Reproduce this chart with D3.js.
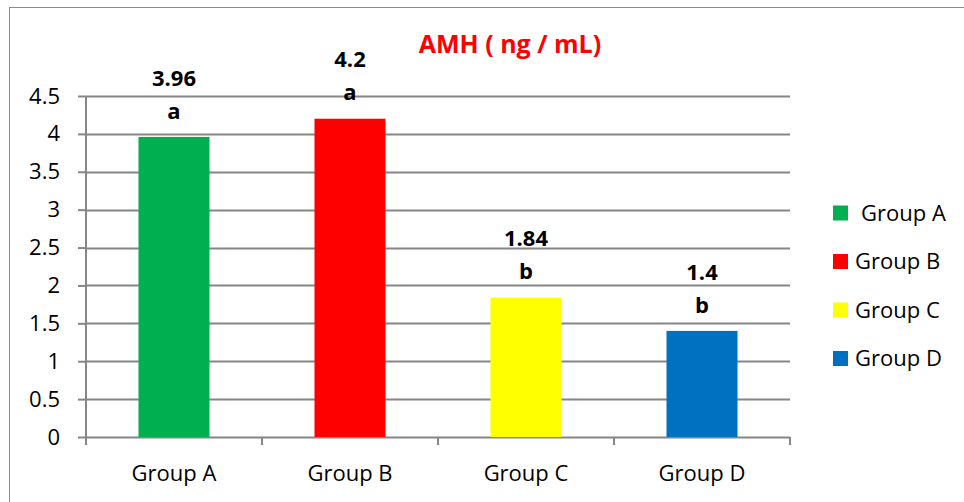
<!DOCTYPE html>
<html>
<head>
<meta charset="utf-8">
<script src="https://cdn.jsdelivr.net/npm/d3@7"></script>
<style>
  html, body { margin: 0; padding: 0; background: #fff; }
  svg { display: block; }
  text { font-family: "Open Sans", "DejaVu Sans", sans-serif; }
</style>
</head>
<body>
<svg id="chart" width="964" height="502"></svg>
<script>
// AMH levels per group with significance letters
const groups = ["Group A", "Group B", "Group C", "Group D"];
const amhValues = [3.96, 4.2, 1.84, 1.4];
const sigLetters = ["a", "a", "b", "b"];
const barColors = ["#00B050", "#FF0000", "#FFFF00", "#0070C0"];
const yTicks = [0, 0.5, 1, 1.5, 2, 2.5, 3, 3.5, 4, 4.5];
const chartTitle = "AMH ( ng / mL)";

const svg = d3.select("#chart");
const gridColor = "#868686";

// outer frame of the chart area
svg.append("rect")
  .attr("x", 9.5).attr("y", 7.5)
  .attr("width", 1000).attr("height", 600)
  .attr("fill", "none").attr("stroke", "#8c8c8c").attr("stroke-width", 1);

const plot = { left: 86, right: 790, top: 96, bottom: 437 };

const x = d3.scaleBand().domain(groups).range([plot.left, plot.right]).paddingInner(0).paddingOuter(0);
const y = d3.scaleLinear().domain([0, 4.5]).range([plot.bottom, plot.top]);

// horizontal gridlines
svg.append("g").selectAll("line").data(yTicks.filter(t => t > 0)).join("line")
  .attr("x1", plot.left).attr("x2", plot.right)
  .attr("y1", d => Math.round(y(d)) + 0.5).attr("y2", d => Math.round(y(d)) + 0.5)
  .attr("stroke", gridColor).attr("stroke-width", 2);

// y axis
const yAxis = svg.append("g")
  .attr("transform", `translate(${plot.left},0)`)
  .call(d3.axisLeft(y).tickValues(yTicks).tickSize(8).tickPadding(18).tickFormat(d3.format("")));
yAxis.select(".domain").attr("stroke", gridColor).attr("stroke-width", 2).attr("d", `M0,${plot.top}V${plot.bottom}`);
yAxis.selectAll(".tick line").attr("stroke", gridColor).attr("stroke-width", 2);
yAxis.selectAll(".tick text").attr("fill", "#000").style("font-size", "22px").style("font-family", "'Open Sans', sans-serif");

// x axis with ticks at the band boundaries
const xAxisG = svg.append("g").attr("transform", `translate(0,${plot.bottom})`);
xAxisG.append("line")
  .attr("x1", plot.left).attr("x2", plot.right).attr("y1", 0.5).attr("y2", 0.5)
  .attr("stroke", gridColor).attr("stroke-width", 2);
const boundaries = groups.map(g => x(g)).concat([x(groups[groups.length - 1]) + x.bandwidth()]);
xAxisG.selectAll("line.tick").data(boundaries).join("line")
  .attr("class", "tick")
  .attr("x1", d => d).attr("x2", d => d).attr("y1", 0).attr("y2", 8)
  .attr("stroke", gridColor).attr("stroke-width", 2);
xAxisG.selectAll("text").data(groups).join("text")
  .attr("x", d => x(d) + x.bandwidth() / 2)
  .attr("y", 36)
  .attr("dy", "0.35em")
  .attr("text-anchor", "middle")
  .style("font-size", "22px")
  .text(d => d);

// bars
const barW = 71;
svg.append("g").selectAll("rect").data(amhValues).join("rect")
  .attr("x", (d, i) => x(groups[i]) + x.bandwidth() / 2 - barW / 2)
  .attr("y", d => y(d))
  .attr("width", barW)
  .attr("height", d => y(0) - y(d))
  .attr("fill", (d, i) => barColors[i]);

// value and letter labels above bars
const labels = svg.append("g").selectAll("g").data(amhValues).join("g")
  .attr("transform", (d, i) => `translate(${x(groups[i]) + x.bandwidth() / 2},${y(d)})`);
labels.append("text")
  .attr("y", -59).attr("dy", "0.35em")
  .attr("text-anchor", "middle")
  .style("font-size", "22px").style("font-weight", "bold")
  .text(d => d);
labels.append("text")
  .attr("y", -26).attr("dy", "0.35em")
  .attr("text-anchor", "middle")
  .style("font-size", "22px").style("font-weight", "bold")
  .text((d, i) => sigLetters[i]);

// title
svg.append("text")
  .attr("x", 510).attr("y", 44).attr("dy", "0.35em")
  .attr("text-anchor", "middle")
  .attr("fill", "#FF0000")
  .style("font-size", "25px").style("font-weight", "bold")
  .text(chartTitle);

// legend
const legend = svg.append("g").selectAll("g").data(groups).join("g")
  .attr("transform", (d, i) => `translate(833,${213 + i * 48.5})`);
legend.append("rect")
  .attr("x", 0).attr("y", -7.5).attr("width", 15).attr("height", 15)
  .attr("fill", (d, i) => barColors[i]);
legend.append("text")
  .attr("x", (d, i) => i === 0 ? 28 : 22).attr("y", 0).attr("dy", "0.35em")
  .style("font-size", "22px")
  .text(d => d);
</script>
</body>
</html>
